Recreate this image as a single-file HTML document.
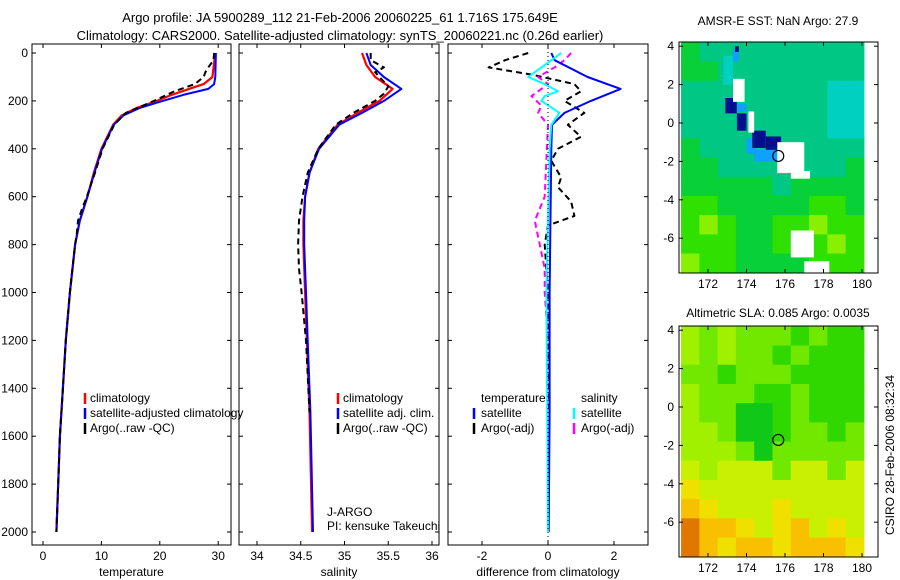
<!DOCTYPE html>
<html><head><meta charset="utf-8">
<style>
html,body{margin:0;padding:0;background:#fff;}
svg{display:block;font-family:"Liberation Sans",Arial,sans-serif;}
</style></head>
<body>
<svg id="fig" width="900" height="580" viewBox="0 0 900 580" xmlns="http://www.w3.org/2000/svg">
<rect width="900" height="580" fill="#fff"/>
<text x="340" y="22" font-size="13" text-anchor="middle">Argo profile: JA 5900289_112 21-Feb-2006 20060225_61 1.716S 175.649E</text>
<text x="340" y="40" font-size="13" text-anchor="middle">Climatology: CARS2000. Satellite-adjusted climatology: synTS_20060221.nc (0.26d earlier)</text>
<text x="778" y="25" font-size="12" text-anchor="middle">AMSR-E SST: NaN Argo: 27.9</text>
<text x="778" y="317" font-size="12" text-anchor="middle">Altimetric SLA: 0.085 Argo: 0.0035</text>
<text transform="translate(894,455) rotate(-90)" font-size="12" text-anchor="middle">CSIRO 28-Feb-2006 08:32:34</text>
<g id="g"></g>
</svg>
<script>
// ---------- data ----------
const pTicks = [0,200,400,600,800,1000,1200,1400,1600,1800,2000];
const tempTicks = [0,10,20,30];
const salTicks = [34,34.5,35,35.5,36];
const diffTicks = [-2,0,2];
const lonTicks = [172,174,176,178,180];
const latTicks = [4,2,0,-2,-4,-6];

const climTempP = [0,100,130,150,175,200,230,260,300,400,500,600,700,800,1000,1200,1400,1600,1800,2000];
const climTempV = [29.5,29,27.5,25,22,19.5,16,13.5,12,10,8.7,7.6,6.3,5.5,4.6,3.9,3.4,2.9,2.6,2.3];
const satTempP = [0,100,130,150,175,200,230,260,300,400,500,600,700,800,1000,1200,1400,1600,1800,2000];
const satTempV = [29.6,29.5,29.3,28.3,24,20.5,16.5,13.8,12.1,10.1,8.8,7.6,6.3,5.5,4.6,3.9,3.4,2.9,2.6,2.3];
const argoTempP = [0,30,60,80,100,130,160,200,250,300,400,500,600,650,700,750,800,1000,1200,1400,1600,1800,2000];
const argoTempV = [29.3,29.2,28.3,27.8,27.5,26,22.5,19,14.2,12.2,10.2,8.9,7.5,6.7,6.0,5.8,5.5,4.6,3.9,3.4,2.9,2.6,2.3];

const climSalP = [0,50,100,150,200,250,300,400,500,600,700,800,1000,1200,1500,2000];
const climSalV = [35.2,35.25,35.35,35.55,35.4,35.15,34.92,34.7,34.6,34.55,34.53,34.53,34.55,34.57,34.6,34.63];
const satSalP = [0,50,100,150,200,250,300,400,500,600,700,800,1000,1200,1500,2000];
const satSalV = [35.25,35.3,35.45,35.65,35.45,35.2,34.94,34.71,34.6,34.55,34.54,34.54,34.56,34.58,34.61,34.64];
const argoSalP = [0,30,60,80,100,140,170,200,250,300,400,500,600,700,800,900,1000,1200,1500];
const argoSalV = [35.3,35.3,35.45,35.35,35.4,35.5,35.45,35.35,35.1,34.9,34.7,34.58,34.52,34.48,34.47,34.48,34.51,34.56,34.6];

const dTempSatP = [0,30,100,150,200,250,300,400,1000,1500,2000];
const dTempSatV = [0.1,0.2,1.2,2.2,1.3,0.5,0.12,0.1,0.05,0.05,0.02];
const dTempArgoP = [0,30,60,90,130,160,200,250,300,350,400,450,520,560,620,680,720,800,1000,1500];
const dTempArgoV = [-0.6,-1.3,-1.8,-0.5,0.8,1.0,0.5,1.1,0.6,1.0,0.3,0.1,0.4,0.3,0.7,0.8,0,-0.1,0,0];
const dSalSatP = [0,30,100,130,160,180,200,250,300,400,1000,2000];
const dSalSatV = [0.4,0.1,-0.6,-0.1,0.3,-0.1,-0.2,0.35,0.1,0.05,-0.05,0];
const dSalArgoP = [0,30,60,100,130,180,220,250,300,600,700,900,1000,1200];
const dSalArgoV = [0.7,0.5,0.2,-0.3,0,-0.5,-0.2,-0.3,0,-0.1,-0.4,-0.1,-0.1,0];

const argoLon = 175.649, argoLat = -1.716;
const sstRows = [
 "GTTTTTTTTT","GGTTTTTTTT","TTTTTTTTCC","TTTTTTTTCC","TTTTTTTTCC","GTTTTTTTTT",
 "GGTTTTTTTG","GGGGGTGGGG","LLGGGGGLLG","LYLGGLLYLL","LLLGGLLLYL","YLLGGGGLLL"];
const slaRows = [
 "YLYLLLGLGG","YLYLLGLGGG","LLGLLLGGGG","YLLLGGLGGG","YLLDDGLGGG","YYLDDGLLGL",
 "YYYLDLLLLL","EYEEELEELE","FEEEEEEEEE","OFEEEFEEEE","ROOFEFOEFE","ROFOOFOOOF"];
const sstPatches = [
 [172.8,173.3,2.0,3.5,"C"],[173.3,173.6,3.2,3.8,"B"],[173.4,173.6,3.7,4.0,"D"],
 [172.9,173.5,0.5,1.3,"D"],[173.5,174.0,0.6,1.0,"B"],[173.5,174.0,-0.4,0.5,"D"],
 [174.0,174.5,-1.6,-0.8,"B"],[174.3,175.0,-1.3,-0.4,"D"],[175.0,175.8,-1.4,-0.7,"D"],
 [174.4,175.6,-2.0,-1.4,"B"],
 [173.3,173.9,1.1,2.3,"W"],[174.1,174.4,-0.5,0.6,"W"],[175.6,177.0,-2.6,-1.0,"W"],
 [176.3,177.3,-2.9,-2.5,"W"],[176.3,177.5,-7.0,-5.6,"W"],[177.0,178.3,-7.8,-7.2,"W"]];

// ---------- helpers ----------
const NS="http://www.w3.org/2000/svg";
const G=document.getElementById('g');
function mk(tag,attrs,parent){const e=document.createElementNS(NS,tag);for(const k in attrs)e.setAttribute(k,attrs[k]);(parent||G).appendChild(e);return e;}
const yP = p => 53 + p*0.2395;
const panels = [
 {name:'temperature',x0:32,x1:231,xs:v=>43+v*5.84,ticks:tempTicks,label:'temperature'},
 {name:'salinity',x0:239,x1:439,xs:v=>257+(v-34)*87.5,ticks:salTicks,label:'salinity'},
 {name:'difference',x0:448,x1:648,xs:v=>548+v*33,ticks:diffTicks,label:'difference from climatology'}];
const TOP=44, BOT=545;

function pathFrom(P,V,xs){return P.map((p,i)=>(i?'L':'M')+xs(V[i]).toFixed(1)+','+yP(p).toFixed(1)).join('');}

panels.forEach((pn,k)=>{
  const ax=mk('g',{});
  
  
  mk('rect',{x:pn.x0,y:TOP,width:pn.x1-pn.x0,height:BOT-TOP,fill:'#fff',stroke:'#000','stroke-width':1},ax);
  pn.ticks.forEach(t=>{
    const x=pn.xs(t);
    mk('line',{x1:x,x2:x,y1:BOT,y2:BOT-4,stroke:'#000'},ax);
    mk('line',{x1:x,x2:x,y1:TOP,y2:TOP+4,stroke:'#000'},ax);
    const tx=mk('text',{x:x,y:BOT+15,'font-size':12,'text-anchor':'middle'},ax);
    tx.textContent=t;
    
    
  });
  pTicks.forEach(p=>{
    const y=yP(p);
    mk('line',{x1:pn.x0,x2:pn.x0+4,y1:y,y2:y,stroke:'#000'},ax);
    mk('line',{x1:pn.x1,x2:pn.x1-4,y1:y,y2:y,stroke:'#000'},ax);
    if(k===0){const tx=mk('text',{x:28,y:y+4,'font-size':12,'text-anchor':'end'},ax);tx.textContent=p;
      
      }
  });
  const xl=mk('text',{x:(pn.x0+pn.x1)/2,y:BOT+31,'font-size':12,'text-anchor':'middle'},ax);
  xl.textContent=pn.label;
  
  
});

function series(P,V,pn,color,w,dash,name){
  const e=mk('path',{d:pathFrom(P,V,pn.xs),fill:'none',stroke:color,'stroke-width':w,'stroke-dasharray':dash||'none','stroke-linejoin':'round'});
  
  
}
series(climTempP,climTempV,panels[0],'#f00',2.2,null,'temp-climatology-line');
series(satTempP,satTempV,panels[0],'#00f',2,null,'temp-satellite-line');
series(argoTempP,argoTempV,panels[0],'#000',2,'6,4','temp-argo-line');
series(climSalP,climSalV,panels[1],'#f00',2.2,null,'sal-climatology-line');
series(satSalP,satSalV,panels[1],'#00f',2,null,'sal-satellite-line');
series(argoSalP,argoSalV,panels[1],'#000',2,'6,4','sal-argo-line');
series(dTempArgoP,dTempArgoV,panels[2],'#000',2,'6,4','diff-temp-argo-line');
series(dSalArgoP,dSalArgoV,panels[2],'#f0f',2,'6,4','diff-sal-argo-line');
series(dTempSatP,dTempSatV,panels[2],'#00f',2,null,'diff-temp-satellite-line');
series(dSalSatP,dSalSatV,panels[2],'#0ff',2,null,'diff-sal-satellite-line');
mk('line',{x1:548,x2:548,y1:TOP,y2:BOT,stroke:'#000','stroke-dasharray':'1,3'});

function legend(x,y,items,name){
  const g=mk('g',{});
  
  
  items.forEach((it,i)=>{
    const yy=y+i*15;
    if(it[0]) mk('line',{x1:x,x2:x,y1:yy-9,y2:yy+2,stroke:it[0],'stroke-width':2.5},g);
    const t=mk('text',{x:x+it[2],y:yy,'font-size':12},g);t.textContent=it[1];
  });
}
legend(85,402,[['#f00','climatology',5],['#00f','satellite-adjusted climatology',5],['#000','Argo(..raw -QC)',5]],'temp-legend');
legend(338,402,[['#f00','climatology',5],['#00f','satellite adj. clim.',5],['#000','Argo(..raw -QC)',5]],'sal-legend');
legend(474,402,[[null,'temperature',7],['#00f','satellite',7],['#000','Argo(-adj)',7]],'diff-temp-legend');
legend(574,402,[[null,'salinity',7],['#0ff','satellite',7],['#f0f','Argo(-adj)',7]],'diff-sal-legend');
const ja=mk('text',{x:327,y:516,'font-size':12});ja.textContent='J-ARGO';

const pi=mk('text',{x:327,y:530,'font-size':12});pi.textContent='PI: kensuke Takeuchi';


// ---------- maps ----------
const sstCol={G:'#08d038',T:'#00c884',C:'#00d0c0',L:'#30e000',Y:'#88f000',B:'#10a0ff',D:'#00108c',W:'#ffffff'};
const slaCol={Y:'#a0f000',L:'#70e800',G:'#30d800',D:'#10c818',E:'#c8f000',F:'#f0e000',O:'#f8c000',R:'#e07800'};
function drawMap(top,bot,rows,cols,patches,name){
  const L=679,R=878;
  const lonX=lo=>708+(lo-172)*19.25;
  const lat0=(top===42)?123:407;
  const latY=la=>lat0-la*19.2;
  const g=mk('g',{});
  
  
  const dl=0.95;
  rows.forEach((r,i)=>{
    for(let j=0;j<r.length;j++){
      const lo=170.6+j*dl, la=4.2-i;
      const x=lonX(lo), y=latY(la), x2=lonX(Math.min(lo+dl,180.15)), y2=latY(la-1);
      mk('rect',{x:x,y:y,width:x2-x+0.5,height:y2-y+0.5,fill:cols[r[j]]},g);
    }
  });
  patches.forEach(pt=>{
    const x=lonX(pt[0]),x2=lonX(pt[1]),y=latY(pt[3]),y2=latY(pt[2]);
    mk('rect',{x:x,y:y,width:x2-x,height:y2-y,fill:cols[pt[4]]},g);
  });
  mk('rect',{x:lonX(180.15),y:top,width:R-lonX(180.15),height:bot-top,fill:'#fff'},g);
  const cx=lonX(argoLon),cy=latY(argoLat);
  mk('circle',{cx:cx,cy:cy,r:5.5,fill:'none',stroke:'#000','stroke-width':1.2},g);
  mk('rect',{x:L,y:top,width:R-L,height:bot-top,fill:'none',stroke:'#000'},g);
  lonTicks.forEach(lo=>{const x=lonX(lo);
    mk('line',{x1:x,x2:x,y1:bot,y2:bot-4,stroke:'#000'},g);
    mk('line',{x1:x,x2:x,y1:top,y2:top+4,stroke:'#000'},g);
    const t=mk('text',{x:x,y:bot+15,'font-size':12,'text-anchor':'middle'},g);t.textContent=lo;});
  latTicks.forEach(la=>{const y=latY(la);
    mk('line',{x1:L,x2:L+4,y1:y,y2:y,stroke:'#000'},g);
    mk('line',{x1:R,x2:R-4,y1:y,y2:y,stroke:'#000'},g);
    const t=mk('text',{x:L-5,y:y+4,'font-size':12,'text-anchor':'end'},g);t.textContent=la;});
}
drawMap(42,273,sstRows,sstCol,sstPatches,'sst-map');
drawMap(326,557,slaRows,slaCol,[],'sla-map');
</script>
</body></html>
